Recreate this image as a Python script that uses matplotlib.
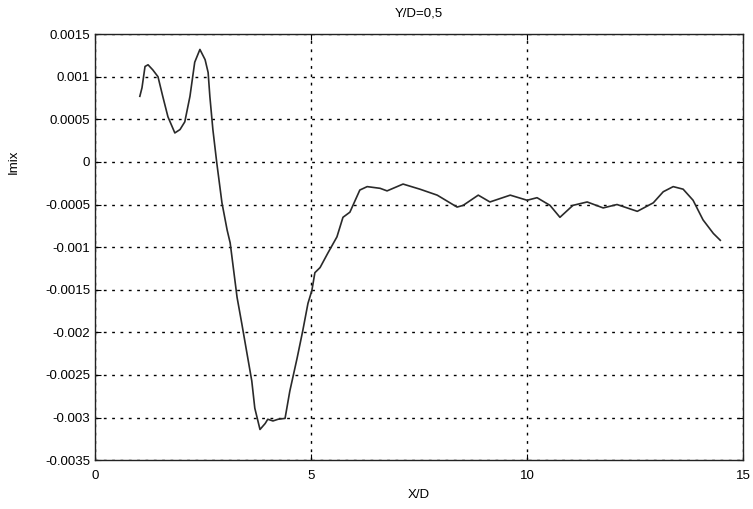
import numpy as np
import matplotlib.pyplot as plt

# X/D positions en Imix waardes
x_d = [1.04, 1.09, 1.16, 1.23, 1.34, 1.46, 1.57, 1.69, 1.85, 1.97,
       2.08, 2.20, 2.31, 2.43, 2.55, 2.62, 2.66, 2.73, 2.82, 2.94,
       3.06, 3.13, 3.19, 3.29, 3.40, 3.52, 3.63, 3.70, 3.82, 3.94,
       4.00, 4.12, 4.24, 4.40, 4.51, 4.68, 4.81, 4.93, 5.02, 5.09,
       5.21, 5.39, 5.60, 5.74, 5.90, 6.13, 6.30, 6.60, 6.76, 7.13,
       7.52, 7.92, 8.38, 8.52, 8.87, 9.14, 9.61, 10.00, 10.23, 10.53,
       10.76, 11.06, 11.39, 11.76, 12.08, 12.55, 12.92, 13.15, 13.38, 13.61,
       13.84, 14.07, 14.31, 14.47]
imix = [0.00077, 0.00087, 0.00112, 0.00114, 0.00108, 0.00100, 0.00077, 0.00053, 0.00034, 0.00038,
        0.00047, 0.00077, 0.00117, 0.00132, 0.00120, 0.00105, 0.00077, 0.00038, -0.00001, -0.00048,
        -0.00080, -0.00095, -0.00119, -0.00159, -0.00190, -0.00225, -0.00257, -0.00289, -0.00314, -0.00307,
        -0.00302, -0.00304, -0.00302, -0.00301, -0.00269, -0.00230, -0.00198, -0.00166, -0.00151, -0.00130,
        -0.00124, -0.00107, -0.00088, -0.00065, -0.00059, -0.00033, -0.00029, -0.00031, -0.00034, -0.00026,
        -0.00032, -0.00039, -0.00053, -0.00051, -0.00039, -0.00047, -0.00039, -0.00045, -0.00042, -0.00051,
        -0.00065, -0.00051, -0.00047, -0.00054, -0.00050, -0.00058, -0.00048, -0.00035, -0.00029, -0.00032,
        -0.00045, -0.00068, -0.00084, -0.00092]

x_ticks = [0, 5, 10, 15]
y_ticks = [-0.0035, -0.003, -0.0025, -0.002, -0.0015, -0.001, -0.0005, 0, 0.0005, 0.001, 0.0015]
y_labels = ['-0.0035', '-0.003', '-0.0025', '-0.002', '-0.0015', '-0.001', '-0.0005',
            '0', '0.0005', '0.001', '0.0015']

plt.rcParams['font.family'] = ['Liberation Sans', 'DejaVu Sans']

fig = plt.figure(figsize=(7.53, 5.09), dpi=100)
ax = fig.add_axes([0.126, 0.096, 0.861, 0.837])

ax.plot(x_d, imix, color='#2a2a2a', linewidth=1.2)

ax.set_xlim(0, 15)
ax.set_ylim(-0.0035, 0.0015)
ax.set_xticks(x_ticks)
ax.set_xticklabels([str(t) for t in x_ticks])
ax.set_yticks(y_ticks)
ax.set_yticklabels(y_labels)
ax.tick_params(direction='in', top=True, right=True, labelsize=9.5, length=4)
ax.tick_params(axis='x', pad=7)

ax.grid(True, color='black', linestyle=(0, (2, 4)), linewidth=1.0)
for s in ax.spines.values():
    s.set_linewidth(1.0)
    s.set_color('#222222')

ax.set_title('Y/D=0,5', fontsize=9.5, pad=13)
ax.set_xlabel('X/D', fontsize=9.5, labelpad=5)
ax.set_ylabel('Imix', fontsize=9.5)
# label staat in het origineel ter hoogte van 0, niet in het midden
ax.yaxis.set_label_coords(-0.116, 0.70)

fig.savefig('out.png', dpi=100)
